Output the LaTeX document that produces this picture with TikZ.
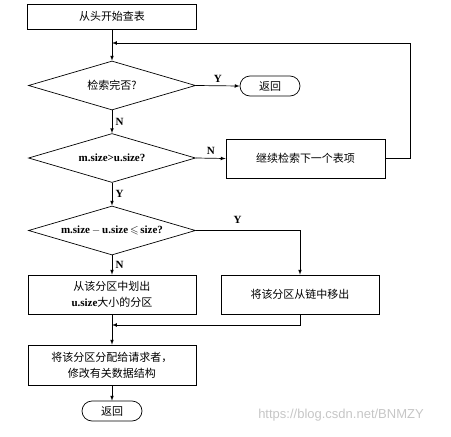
\documentclass[tikz,border=0pt]{standalone}
\usepackage{amssymb}
\usepackage{fontspec}
\setmainfont{Liberation Serif}
\setsansfont{Liberation Sans}
\newfontfamily\cjk{Noto Sans CJK SC}
\usetikzlibrary{arrows,calc,shapes}

\begin{document}
\begin{tikzpicture}[x=1pt,y=-1pt,>=latex,line width=0.7pt,
	caja/.style={draw,rectangle,inner sep=0pt,align=center,font=\fontsize{11}{16}\selectfont},
	rombo/.style={draw,diamond,aspect=3.4,inner sep=0pt,minimum width=167pt,minimum height=49pt,font=\fontsize{11}{13}\selectfont\bfseries},
	fin/.style={draw,rounded rectangle,inner sep=0pt,minimum width=60pt,minimum height=20pt,font=\fontsize{11}{13}\selectfont\cjk},
	etiq/.style={font=\fontsize{11}{13}\selectfont\bfseries}]
\useasboundingbox (0,0) rectangle (451,437);

% % Cajas
\node[caja,minimum width=169pt,minimum height=25pt] (inicio) at (112,16.5) {\cjk 从头开始查表};
\node[rombo] (completo) at (112,85.5) {\cjk\mdseries 检索完否?};
\node[fin] (volver1) at (270,86) {返回};
\node[rombo] (mayor) at (112,158) {m.size>u.size?};
\node[caja,minimum width=159pt,minimum height=39pt] (siguiente) at (305.5,158.5) {\cjk 继续检索下一个表项};
\node[rombo] (resto) at (112,230.5) {m.size\,$-$\,u.size\,$\leqslant$\,size?};
\node[caja,minimum width=168pt,minimum height=39pt] (dividir) at (112,294.5) {{\cjk 从该分区中划出}\\{\bfseries u.size}{\cjk 大小的分区}};
\node[caja,minimum width=158pt,minimum height=39pt] (quitar) at (300,294.5) {\cjk 将该分区从链中移出};
\node[caja,minimum width=168pt,minimum height=40pt] (asignar) at (112,365) {\cjk 将该分区分配给请求者，\\\cjk 修改有关数据结构};
\node[fin] (volver2) at (112,411) {返回};

\coordinate (bucle) at (112,43); % vuelta del bucle
\coordinate (union) at (112,325);

% % Flechas
\draw[->] (inicio.south) -- (completo.north);
\draw[->] (completo.east) -- node[etiq,midway,above] {Y} (volver1.west);
\draw[->] (completo.south) -- node[etiq,midway,right] {N} (mayor.north);
\draw[->] (mayor.east) -- node[etiq,midway,above] {N} (siguiente.west);
\draw[->] (siguiente.east) -- ++(25,0) |- (bucle);
\draw[->] (mayor.south) -- node[etiq,midway,right] {Y} (resto.north);
\draw[->] (resto.east) -| node[etiq,pos=0.2,above=3pt] {Y} (quitar.north);
\draw[->] (resto.south) -- node[etiq,midway,right] {N} (dividir.north);
\draw[->] (quitar.south) |- (union);
\draw[->] (dividir.south) -- (asignar.north);
\draw[->] (asignar.south) -- (volver2.north);

\node[gray!45,font=\fontsize{13}{15}\selectfont\sffamily] (marca) at (341,415) {https://blog.csdn.net/BNMZY};
\end{tikzpicture}
\end{document}
